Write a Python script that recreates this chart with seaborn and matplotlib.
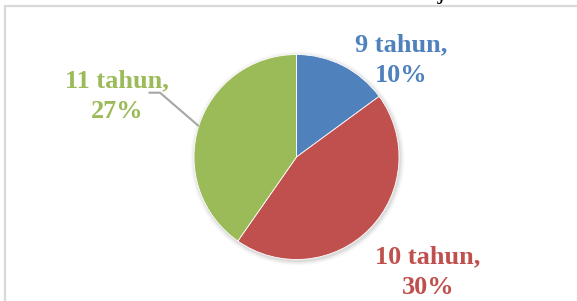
import matplotlib
matplotlib.use("Agg")
import matplotlib.pyplot as plt
import seaborn as sns
from matplotlib.patches import Circle
from matplotlib.lines import Line2D

categories = ["9 tahun", "10 tahun", "11 tahun"]
values = [10, 30, 27]
colors = ["#4f81bd", "#c0504d", "#9bbb59"]

sns.set_theme(style="white")
plt.rcParams["font.family"] = ["Liberation Serif", "DejaVu Serif"]

W, H = 577, 301
fig = plt.figure(figsize=(W / 100, H / 100), dpi=100)
ax = fig.add_axes([0, 0, 1, 1])

def py(y):
    return H - y

cx, cy, r = 296.5, py(157), 102.5

# soft shadow
for i, a in enumerate([0.05, 0.04, 0.03, 0.02]):
    ax.add_patch(Circle((cx + 1, cy - 1.5), r + 1 + i * 1.2, color="black", alpha=a, lw=0, zorder=0))

ax.pie(values, colors=colors, startangle=90, counterclock=False,
       radius=r, center=(cx, cy), frame=True,
       wedgeprops=dict(edgecolor="white", linewidth=0.6))

ax.set_xlim(0, W)
ax.set_ylim(0, H)
ax.axis("off")

font = dict(fontsize=18.9, fontweight="bold", ha="center", va="baseline")
label_pos = [(401.5, 51, 81.7), (428, 263.3, 294.3), (117, 87.3, 118.3)]
for cat, val, col, (x, y1, y2) in zip(categories, values, colors, label_pos):
    ax.text(x, py(y1), f"{cat},", color=col, **font)
    ax.text(x, py(y2), f"{val}%", color=col, **font)

# leader line for 11 tahun
ax.add_line(Line2D([149.3, 160, 198.3], [py(92.7), py(92.7), py(125.7)],
                   color="#a6a6a6", lw=1.5, zorder=3))

# descender of the cut-off title above the chart
ax.text(441, py(-1.2), "j", color="black", fontsize=18, ha="center", va="baseline")

# chart frame (cut off at right and bottom)
fig.add_artist(Line2D([5 / W, 1.0], [1 - 6 / H, 1 - 6 / H], color="#d9d9d9", lw=1.6))
fig.add_artist(Line2D([5 / W, 5 / W], [1 - 6 / H, 0.0], color="#d9d9d9", lw=1.6))

fig.savefig("out.png", dpi=100)
